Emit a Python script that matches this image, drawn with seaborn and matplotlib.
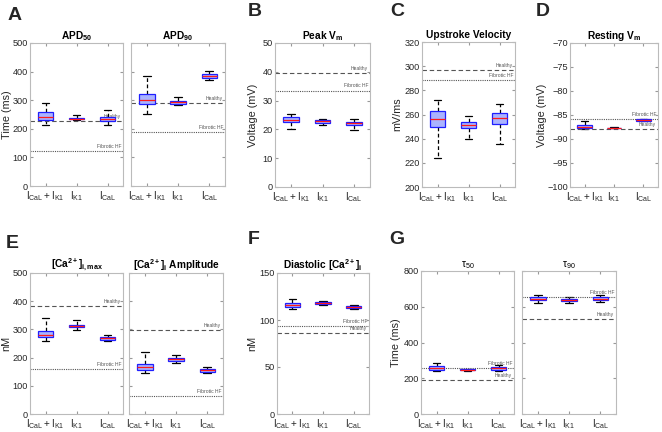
import pandas as pd
import matplotlib
matplotlib.use("Agg")
import matplotlib.pyplot as plt
import seaborn as sns

# groups on the x axis
groups = [r"$I_{CaL} + I_{K1}$", r"$I_{K1}$", r"$I_{CaL}$"]

# five-number summaries per group: [min, q1, median, q3, max]
apd50 = [[212, 230, 242, 258, 290], [230, 233, 236, 239, 247], [213, 228, 236, 243, 265]]
apd90 = [[252, 285, 300, 320, 385], [283, 288, 292, 297, 311], [370, 378, 385, 390, 402]]
peak_vm = [[20.0, 22.5, 23.3, 24.3, 25.3], [21.5, 22.3, 22.8, 23.2, 23.7], [19.8, 21.6, 22.1, 22.6, 23.5]]
upstroke = [[224, 250, 256, 263, 272], [240, 249, 251.5, 254, 259], [236, 252, 257, 261, 269]]
resting_vm = [[-87.9, -87.7, -87.4, -87.1, -86.3], [-87.8, -87.75, -87.7, -87.65, -87.6], [-86.3, -86.2, -86.05, -85.9, -85.8]]
ca_max = [[258, 272, 280, 293, 342], [298, 310, 313, 317, 332], [258, 264, 269, 274, 280]]
ca_amp = [[144, 155, 165, 178, 220], [180, 188, 195, 200, 210], [146, 150, 155, 160, 165]]
ca_dia = [[112, 114, 116, 118, 122], [116, 117, 118, 119, 120], [112, 113, 114, 115, 116]]
tau50 = [[238, 248, 258, 268, 285], [242, 244, 247, 250, 252], [238, 245, 255, 262, 275]]
tau90 = [[620, 635, 645, 655, 665], [620, 630, 635, 645, 655], [625, 635, 643, 652, 665]]

# reference lines: (healthy, fibrotic HF)
ref_apd50 = (226, 122)
ref_apd90 = (290, 190)
ref_peak = (39.5, 33.5)
ref_upstroke = (296.5, 288.5)
ref_resting = (-88.0, -85.8)
ref_ca_max = (382, 158)
ref_ca_amp = (298, 63)
ref_ca_dia = (86, 94)
ref_tau50 = (190, 255)
ref_tau90 = (530, 655)

sns.set_style("white")
plt.rcParams['font.family'] = ['Liberation Sans', 'DejaVu Sans']
plt.rcParams['mathtext.fontset'] = 'custom'
plt.rcParams['mathtext.rm'] = 'Liberation Sans'
plt.rcParams['mathtext.it'] = 'Liberation Sans:italic'
plt.rcParams['mathtext.bf'] = 'Liberation Sans:bold'
plt.rcParams['mathtext.default'] = 'regular'

W, H = 662, 432
fig = plt.figure(figsize=(W / 100, H / 100), dpi=100)


def make_ax(x0, x1, y0, y1):
    ax = fig.add_axes([x0 / W, 1 - y1 / H, (x1 - x0) / W, (y1 - y0) / H])
    ax.width_px = x1 - x0
    return ax


def draw(ax, values, refs, ylim, yticks, title, ylabel=None, label_off=20,
         show_ylabels=True, title_bold=True):
    df = pd.DataFrame({
        "group": [g for g, v in zip(groups, values) for _ in v],
        "value": [x for v in values for x in v],
    })
    sns.boxplot(data=df, x="group", y="value", order=groups, ax=ax,
                whis=(0, 100), width=0.5, color="#aab3ff", linewidth=0.9,
                boxprops=dict(edgecolor="#1f1fff", facecolor="#aab3ff", zorder=3),
                medianprops=dict(color="#ff1a1a", linewidth=0.9, zorder=4),
                whiskerprops=dict(color="black", linestyle=(0, (3, 2)), linewidth=0.9),
                capprops=dict(color="black", linewidth=0.9),
                showfliers=False)
    healthy, fibrotic = refs
    ax.axhline(healthy, color="#555555", ls=(0, (4, 2.5)), lw=0.8, zorder=2)
    ax.axhline(fibrotic, color="#555555", ls=(0, (1, 1)), lw=0.8, zorder=2)
    tr = ax.get_yaxis_transform()
    for yv, lab in ((healthy, "Healthy"), (fibrotic, "Fibrotic HF")):
        ax.annotate(lab, xy=(0.98, yv), xycoords=tr, xytext=(0, 1.5),
                    textcoords="offset points", ha="right", va="bottom",
                    fontsize=3.6, color="#555555", zorder=1)
    ax.set_xlim(-0.5, 2.5)
    ax.set_ylim(*ylim)
    ax.set_yticks(yticks)
    ax.set_xlabel("")
    if ylabel:
        ax.set_ylabel(ylabel, fontsize=7.8, color="#262626")
        ax.yaxis.set_label_coords(-label_off / ax.width_px, 0.5)
    else:
        ax.set_ylabel("")
    if not show_ylabels:
        ax.set_yticklabels([])
    ax.tick_params(axis="both", which="both", direction="in", length=2,
                   color="#999999", labelcolor="#262626",
                   top=True, right=True, left=True, bottom=True, pad=2)
    ax.tick_params(axis="y", labelsize=6.6, pad=1.5)
    ax.tick_params(axis="x", labelsize=7.2)
    for sp in ax.spines.values():
        sp.set_color("#bbbbbb")
        sp.set_linewidth(0.8)
    ax.set_title(title, fontsize=7.3, fontweight="bold" if title_bold else "normal",
                 color="black", pad=3)


# row 1
ax = make_ax(30, 123, 43, 186)
draw(ax, apd50, ref_apd50, (0, 500), range(0, 501, 100), r"APD$_\mathbf{50}$", "Time (ms)", 18)
ax = make_ax(131, 225, 43, 186)
draw(ax, apd90, ref_apd90, (0, 500), range(0, 501, 100), r"APD$_\mathbf{90}$", show_ylabels=False)
ax = make_ax(275, 370, 43, 187)
draw(ax, peak_vm, ref_peak, (0, 50), range(0, 51, 10), r"Peak V$_\mathbf{m}$", "Voltage (mV)", 17)
ax = make_ax(422, 515, 42, 187)
draw(ax, upstroke, ref_upstroke, (200, 320), range(200, 321, 20), "Upstroke Velocity", "mV/ms", 20)
ax = make_ax(570, 658, 43, 187)
draw(ax, resting_vm, ref_resting, (-100, -70), range(-100, -69, 5), r"Resting V$_\mathbf{m}$", "Voltage (mV)", 23)

# row 2
ax = make_ax(30, 123, 273, 414)
draw(ax, ca_max, ref_ca_max, (0, 500), range(0, 501, 100), r"[Ca$^\mathbf{2+}$]$_\mathbf{i,max}$", "nM", 19)
ax = make_ax(129, 223, 273, 414)
draw(ax, ca_amp, ref_ca_amp, (0, 500), range(0, 501, 100), r"[Ca$^\mathbf{2+}$]$_\mathbf{i}$ Amplitude", show_ylabels=False)
ax = make_ax(277, 369, 273, 414)
draw(ax, ca_dia, ref_ca_dia, (0, 150), range(0, 151, 50), r"Diastolic [Ca$^\mathbf{2+}$]$_\mathbf{i}$", "nM", 20)
ax = make_ax(421, 514, 271, 414)
draw(ax, tau50, ref_tau50, (0, 800), range(0, 801, 200), r"$\tau_{50}$", "Time (ms)", 20, title_bold=False)
ax = make_ax(522, 616, 271, 414)
draw(ax, tau90, ref_tau90, (0, 800), range(0, 801, 200), r"$\tau_{90}$", show_ylabels=False, title_bold=False)

# panel letters
for lab, (px, py) in {"A": (8, 16), "B": (248, 12), "C": (390, 12), "D": (536, 12),
                      "E": (6, 243), "F": (248, 240), "G": (389, 240)}.items():
    fig.text(px / W, 1 - py / H, lab, fontsize=14, fontweight="bold", va="center", ha="left")

plt.savefig("out.png", dpi=100)
